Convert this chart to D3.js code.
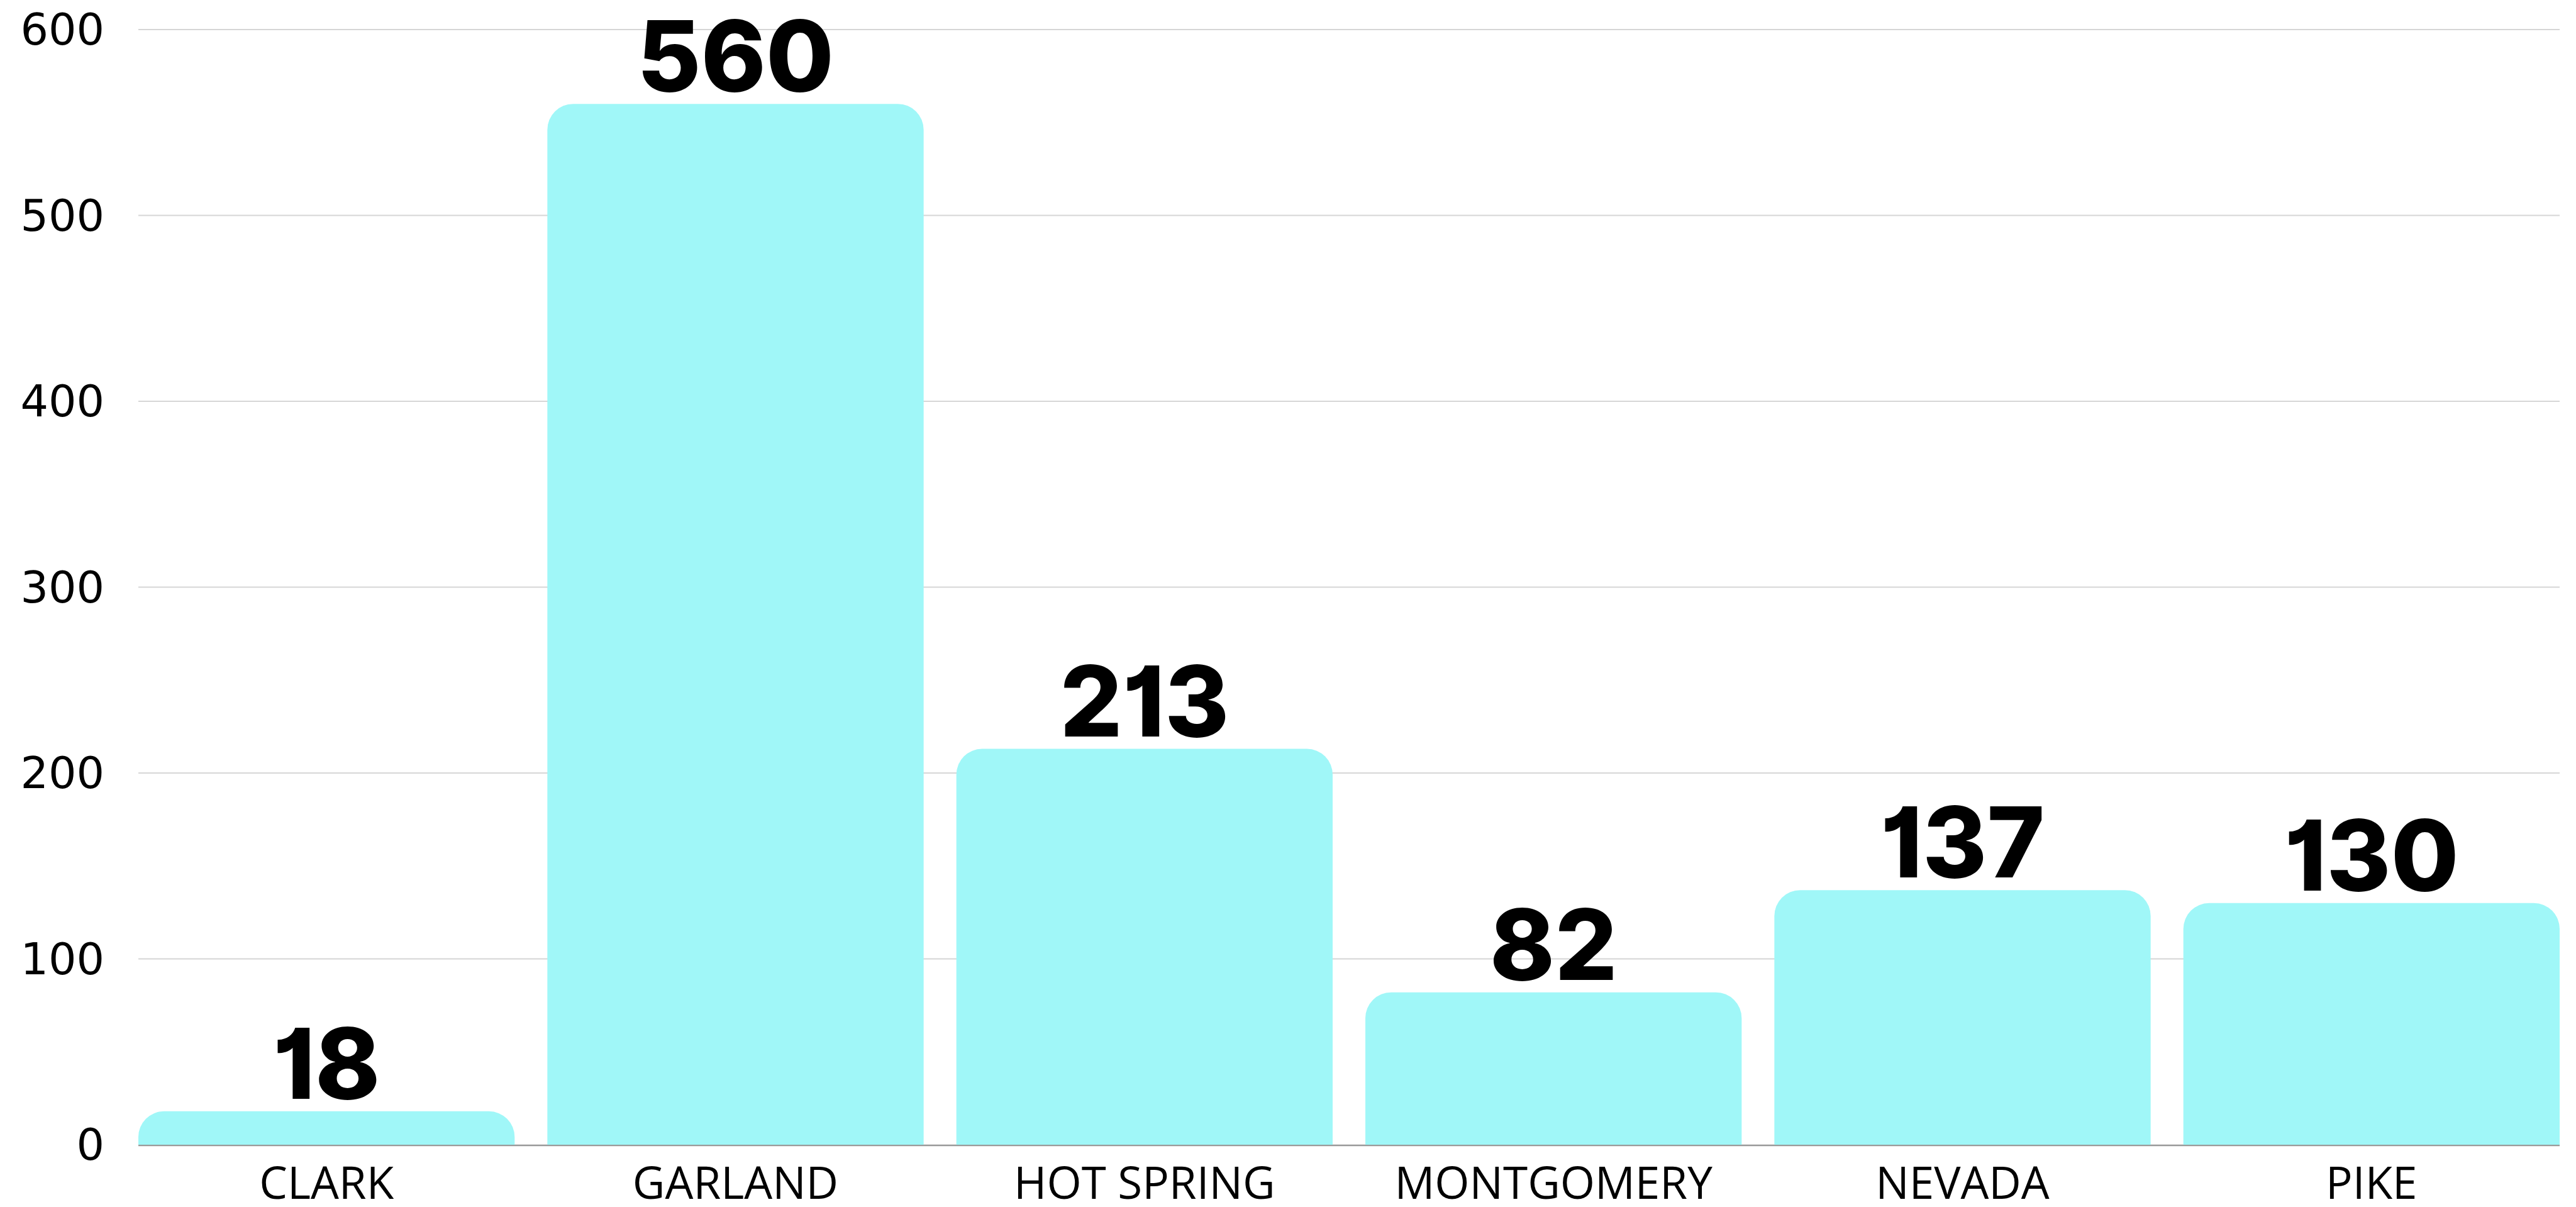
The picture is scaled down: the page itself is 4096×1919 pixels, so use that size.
<!DOCTYPE html>
<html lang="en">
<head>
<meta charset="UTF-8">
<script src="https://cdn.jsdelivr.net/npm/d3@7/dist/d3.min.js"></script>
<style>
  body { margin: 0; background: #fff; overflow: hidden; }
  .tick-label { font-family: "DejaVu Sans", sans-serif; font-size: 70px; fill: #000; }
  .cat-label { font-family: "Open Sans", sans-serif; font-size: 71px; fill: #000; text-anchor: middle; }
  .value-label { font-family: Inter, sans-serif; font-weight: 800; font-size: 156px; fill: #000; text-anchor: middle; font-feature-settings: "cv01"; }
</style>
</head>
<body>
<svg id="chart"></svg>
<script>
const categories = ["CLARK", "GARLAND", "HOT SPRING", "MONTGOMERY", "NEVADA", "PIKE"];
const values = [18, 560, 213, 82, 137, 130];
const yTicks = [0, 100, 200, 300, 400, 500, 600];

const width = 4096, height = 1919;
const margin = {left: 220, right: 4070, top: 47, bottom: 1820};
const radius = 41;

const svg = d3.select("#chart").attr("width", width).attr("height", height);

const x = d3.scaleBand().domain(categories).range([margin.left, margin.right]).paddingInner(0.08).paddingOuter(0);
const y = d3.scaleLinear().domain([0, 600]).range([margin.bottom, margin.top]);

// gridlines
svg.append("g").selectAll("line").data(yTicks.filter(d => d > 0)).join("line")
  .attr("x1", margin.left).attr("x2", margin.right)
  .attr("y1", d => y(d)).attr("y2", d => y(d))
  .attr("stroke", "#d6d6d6").attr("stroke-width", 2);

// y tick labels
svg.append("g").selectAll("text").data(yTicks).join("text")
  .attr("class", "tick-label")
  .attr("x", 166).attr("y", d => y(d))
  .attr("text-anchor", "end").attr("dominant-baseline", "central")
  .text(d => d);

// baseline
svg.append("line")
  .attr("x1", margin.left).attr("x2", margin.right)
  .attr("y1", y(0) + 1).attr("y2", y(0) + 1)
  .attr("stroke", "#999").attr("stroke-width", 2.5);

function topRounded(x0, y0, w, h, r) {
  r = Math.min(r, h, w / 2);
  const p = d3.path();
  p.moveTo(x0, y0 + h);
  p.lineTo(x0, y0 + r);
  p.arcTo(x0, y0, x0 + r, y0, r);
  p.lineTo(x0 + w - r, y0);
  p.arcTo(x0 + w, y0, x0 + w, y0 + r, r);
  p.lineTo(x0 + w, y0 + h);
  p.closePath();
  return p.toString();
}

const data = categories.map((c, i) => ({ c, v: values[i] }));

svg.append("g").selectAll("path").data(data).join("path")
  .attr("fill", "#a0f7f8")
  .attr("d", d => topRounded(x(d.c), y(d.v), x.bandwidth(), y(0) - y(d.v), radius));

svg.append("g").selectAll("text").data(data).join("text")
  .attr("class", "value-label")
  .attr("x", d => x(d.c) + x.bandwidth() / 2)
  .attr("y", d => y(d.v) - 20)
  .text(d => d.v);

svg.append("g").selectAll("text").data(categories).join("text")
  .attr("class", "cat-label")
  .attr("x", d => x(d) + x.bandwidth() / 2)
  .attr("y", 1906)
  .text(d => d);
</script>
</body>
</html>
